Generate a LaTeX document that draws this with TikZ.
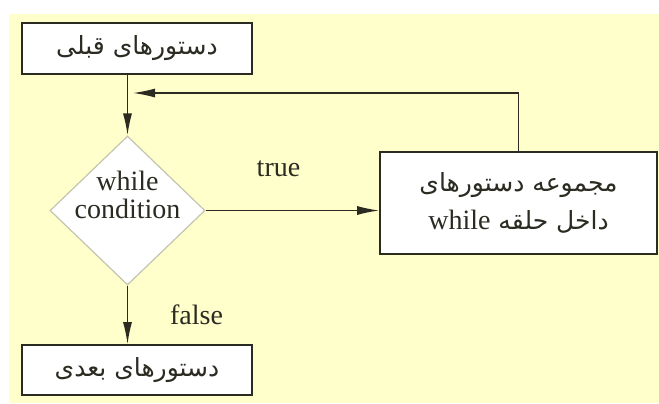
\documentclass[tikz,border=0pt]{standalone}
\usepackage{fontspec}
\usetikzlibrary{shapes.geometric,arrows.meta}
\setmainfont{Liberation Serif}
\newfontfamily\farsi[Script=Arabic]{DejaVu Sans}
\TeXXeTstate=1
\definecolor{bgyellow}{HTML}{FFFFCC}
\definecolor{edge}{HTML}{2B2B22}
\definecolor{diaedge}{HTML}{C4C4B0}

\begin{document}
\begin{tikzpicture}[x=0.5pt,y=-0.5pt,
    box/.style={draw=edge,line width=0.8pt,fill=white,inner sep=0pt},
    flow/.style={draw=edge,line width=0.7pt,-{Latex[length=11pt,width=4.5pt]}},
    lbl/.style={font=\fontsize{14}{14}\selectfont,text=edge},
    fa/.style={font=\fontsize{12.5}{19}\farsi,text=edge}]
\useasboundingbox (0,0) rectangle (659,403);
\fill[bgyellow] (9,14) rectangle (659,403);

\node[box,fa,minimum width=115pt,minimum height=25.5pt] (prev) at (137,48.5)
    {\beginR دستورهای قبلی\endR};
\node[diamond,draw=diaedge,line width=0.6pt,fill=white,inner sep=0pt,
    minimum width=77.5pt,minimum height=74.5pt,
    label={[lbl,align=center,yshift=8pt]center:{while\\condition}}] (cond) at (127.5,210.5) {};
\node[box,fa,align=center,minimum width=138.5pt,minimum height=51pt] (body) at (518.5,203)
    {\beginR مجموعه دستورهای\endR\\
     \beginR داخل حلقه \beginL{\rmfamily\fontsize{14}{19}\selectfont while}\endL\endR};
\node[box,fa,minimum width=115pt,minimum height=25pt] (next) at (137,370)
    {\beginR دستورهای بعدی\endR};
\coordinate (back) at (133,93);

\draw[flow] (prev.south -| cond.north) -- (cond.north);
\draw[flow] (cond.east) -- (cond.east -| body.west)
    node[lbl,pos=0.42,yshift=21pt] {true};
\draw[flow] (body.north) -- (body.north |- back) -- (back);
\draw[flow] (cond.south) -- (next.north -| cond.south)
    node[lbl,midway,xshift=34.5pt] {false};
\end{tikzpicture}
\end{document}
